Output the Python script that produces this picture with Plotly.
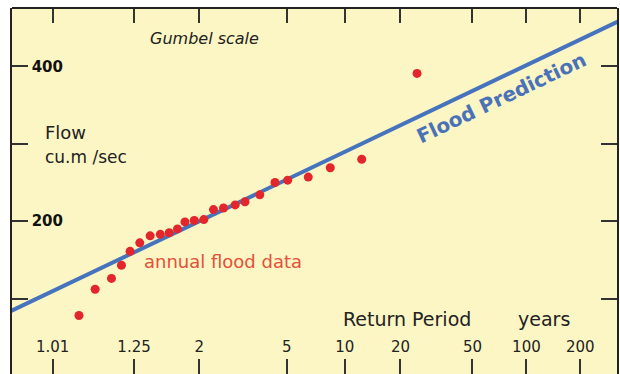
import numpy as np
import plotly.graph_objects as go

# ---- data ----
tick_return_periods = [1.01, 1.25, 2, 5, 10, 20, 50, 100, 200]
tick_labels = ["1.01", "1.25", "2", "5", "10", "20", "50", "100", "200"]

flow_tick_values = [100, 200, 300, 400]
flow_tick_labels = ["", "200", "", "400"]

# annual flood data: return period (years) and flow (cu.m/sec)
flood_return_period = [1.039, 1.075, 1.131, 1.177, 1.225, 1.289, 1.371, 1.466,
                       1.563, 1.665, 1.769, 1.915, 2.086, 2.284, 2.518, 2.835,
                       3.142, 3.687, 4.369, 5.053, 6.43, 8.375, 12.32, 24.67]
flood_flow = [78, 112, 126, 143, 161, 172, 181, 183,
              185, 190, 199, 201, 202, 215, 217, 221,
              225, 234, 250, 253, 257, 269, 280, 391]

# flood prediction line (end points)
prediction_return_period = [1.0003, 330]
prediction_flow = [82.6, 458.7]


def gumbel(T):
    """Gumbel reduced variate for a return period T (the chart's x scale)."""
    T = np.asarray(T, dtype=float)
    return -np.log(-np.log(1.0 - 1.0 / T))


FONT = "DejaVu Sans"
W, H = 620, 374
L, R, T_, B = 12, 3, 8, 0


def px(x):
    return (x - L) / (W - L - R)


def py(y):
    return (H - B - y) / (H - T_ - B)


fig = go.Figure()

fig.add_trace(go.Scatter(
    x=gumbel(prediction_return_period), y=prediction_flow,
    mode="lines", line=dict(color="#4673bd", width=4),
    hoverinfo="skip", showlegend=False))

fig.add_trace(go.Scatter(
    x=gumbel(flood_return_period), y=flood_flow,
    mode="markers", marker=dict(color="#e2262b", size=9),
    showlegend=False))

annotations = [
    dict(text="Gumbel scale", x=px(204), y=py(39), xanchor="center", yanchor="middle",
         font=dict(family=FONT, size=16, color="#222", style="italic")),
    dict(text="Flow", x=px(43), y=py(132), xanchor="left", yanchor="middle",
         font=dict(family=FONT, size=18, color="#222")),
    dict(text="cu.m /sec", x=px(43), y=py(157), xanchor="left", yanchor="middle",
         font=dict(family=FONT, size=17, color="#222")),
    dict(text="annual flood data", x=px(142), y=py(261), xanchor="left", yanchor="middle",
         font=dict(family=FONT, size=18, color="#e4503a")),
    dict(text="Return Period", x=px(341), y=py(319), xanchor="left", yanchor="middle",
         font=dict(family=FONT, size=19, color="#222")),
    dict(text="years", x=px(516), y=py(319), xanchor="left", yanchor="middle",
         font=dict(family=FONT, size=19, color="#222")),
    dict(text="Flood Prediction", x=px(501), y=py(98), xanchor="center", yanchor="middle",
         textangle=-25.4,
         font=dict(family=FONT, size=20, color="#4a72b8", weight="bold")),
]
for a in annotations:
    a.update(xref="paper", yref="paper", showarrow=False)

fig.update_layout(
    width=W, height=H,
    margin=dict(l=L, r=R, t=T_, b=B, pad=0, autoexpand=False),
    paper_bgcolor="white",
    plot_bgcolor="#fcf6c4",
    annotations=annotations,
    shapes=[dict(type="line", xref="paper", yref="paper", x0=0, x1=1, y0=1, y1=1,
                 line=dict(color="#222", width=2))],
    xaxis=dict(
        range=[-2.055, 5.772], automargin=False,
        tickmode="array", tickvals=gumbel(tick_return_periods), ticktext=tick_labels,
        ticks="inside", ticklen=15, tickwidth=2, tickcolor="#333",
        mirror="ticks", showline=False, showgrid=False, zeroline=False,
        ticklabelposition="inside", ticklabelstandoff=4,
        tickfont=dict(family=FONT, size=15, color="#222"),
    ),
    yaxis=dict(
        range=[2.4, 475.6], automargin=False,
        tickmode="array", tickvals=flow_tick_values, ticktext=flow_tick_labels,
        ticks="inside", ticklen=16, tickwidth=2, tickcolor="#333",
        showline=True, linecolor="#222", linewidth=2,
        mirror="ticks", showgrid=False, zeroline=False,
        ticklabelposition="outside", ticklabelstandoff=-56,
        tickfont=dict(family=FONT, size=15, color="#111", weight="bold"),
    ),
)

fig.write_html("out.html", config={"displayModeBar": False},
               post_script="document.body.style.margin='0';")
